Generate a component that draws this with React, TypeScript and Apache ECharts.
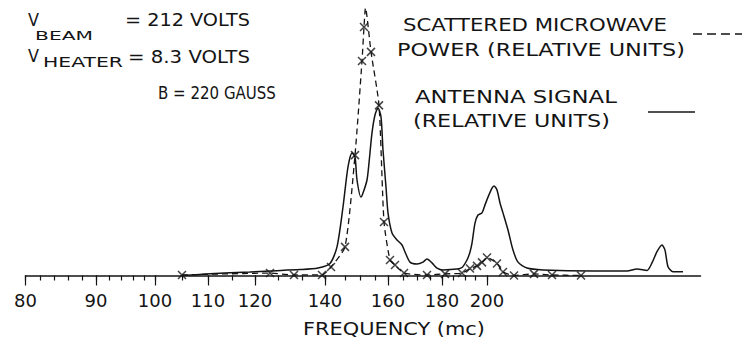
import React, { useEffect, useRef } from "react";
import * as echarts from "echarts";

// Horizontal axis is the sweep position (arbitrary linear units, 0 = 80 mc mark).
// Frequency calibration of the sweep (non-linear).
const tickLabelPos = [0, 14.1, 25.9, 36.5, 45.9, 59.9, 72.5, 83.3, 92.3];
const tickLabelFreq = ["80", "90", "100", "110", "120", "140", "160", "180", "200"];
const minorTickPos = [
  0, 3.0, 5.7, 8.5, 11.3, 14.1, 16.7, 19.1, 21.5, 23.7, 25.9, 31.3, 36.5, 41.3, 45.9,
  50.5, 55.3, 59.9, 63.9, 66.9, 69.9, 72.5, 75.5, 78.3, 80.9, 83.3, 85.5, 87.9, 89.9, 92.3,
];

// Antenna signal (relative units), solid curve
const antennaPos = [
  31.3, 36.9, 44.9, 48.9, 54.9, 58.5, 60.9, 62.3, 63.5, 64.5, 65.3, 65.9, 66.3, 67.1, 67.5,
  68.3, 68.7, 69.3, 69.9, 70.5, 71.1, 71.5, 72.1, 72.5, 73.3, 74.3, 75.3, 75.9, 76.9, 78.3,
  79.5, 80.3, 81.3, 82.3, 83.5, 86.3, 87.3, 88.3, 88.9, 89.3, 89.9, 90.5, 91.3, 91.9, 92.5,
  93.3, 93.7, 94.3, 94.9, 95.5, 96.5, 97.5, 98.5, 100.3, 103.5, 113.5, 120.3, 122.3, 124.3,
  125.3, 126.3, 127.3, 127.9, 128.5, 129.5, 131.5,
];
const antennaSignal = [
  0, 0.7, 1.3, 1.7, 2.2, 2.8, 4.5, 10.7, 25.6, 40.6, 45.8, 44.3, 35.7, 29.3, 30.8,
  35.7, 42.1, 53.3, 60.0, 62.6, 59.3, 46.9, 33.1, 23.4, 15.9, 13.3, 11.4, 8.8, 5.0, 4.3,
  5.0, 6.2, 4.7, 2.8, 2.1, 2.4, 3.0, 5.8, 8.8, 12.1, 19.6, 22.6, 23.4, 26.4, 29.3,
  32.7, 33.5, 32.0, 27.1, 23.4, 17.0, 9.5, 5.0, 2.8, 2.1, 1.7, 1.7, 2.4, 1.9,
  4.7, 8.9, 11.4, 9.5, 3.3, 1.4, 1.4,
];

// Scattered microwave power (relative units), dashed curve; 1 = measured point (x mark)
const microPos = [
  31.3, 48.9, 53.7, 59.3, 61.1, 63.9, 65.9, 67.3, 67.7, 68.0, 69.1, 70.7, 71.7, 72.9, 73.9,
  75.7, 80.3, 83.9, 87.3, 88.9, 90.3, 91.3, 92.3, 94.3, 95.5, 97.7, 101.7, 105.3, 111.1,
];
const microPower = [
  0.2, 0.9, 0.2, 0.2, 3.2, 10.7, 45.0, 80.2, 92.9, 100, 83.6, 63.6, 20.0, 5.8, 3.9,
  0.9, 0.2, 0.6, 0.9, 2.6, 3.6, 4.9, 6.7, 4.5, 1.3, 0, 0.6, 0.2, 0,
];
const microMeasured = [
  1, 1, 1, 1, 1, 1, 1, 1, 1, 0, 1, 1, 1, 1, 1,
  1, 1, 1, 1, 1, 1, 1, 1, 1, 1, 1, 1, 1, 1,
];

const FONT = '"DejaVu Sans", sans-serif';
const INK = "#141414";

function fitScale(text: string, size: number, width: number): number {
  const c = document.createElement("canvas").getContext("2d");
  if (!c) return 1;
  c.font = `${size}px "DejaVu Sans"`;
  const w = c.measureText(text).width;
  return w > 0 ? width / w : 1;
}

type Note = { t: string; x: number; y: number; size: number; w: number; align?: string };
const notes: Note[] = [
  { t: "V", x: 28, y: 20, size: 18, w: 11 },
  { t: "BEAM", x: 35, y: 35, size: 13, w: 58 },
  { t: "= 212 VOLTS", x: 125, y: 20, size: 18, w: 125 },
  { t: "V", x: 28, y: 56, size: 18, w: 11 },
  { t: "HEATER", x: 43, y: 62, size: 14, w: 80 },
  { t: "= 8.3 VOLTS", x: 128, y: 56, size: 18, w: 122 },
  { t: "B = 220 GAUSS", x: 158, y: 93, size: 18, w: 118 },
  { t: "SCATTERED MICROWAVE", x: 403, y: 25, size: 18, w: 264 },
  { t: "POWER (RELATIVE UNITS)", x: 397, y: 50, size: 18, w: 288 },
  { t: "ANTENNA SIGNAL", x: 415, y: 97, size: 18, w: 202 },
  { t: "(RELATIVE UNITS)", x: 413, y: 121, size: 18, w: 197 },
  { t: "FREQUENCY (mc)", x: 394, y: 329, size: 18, w: 182, align: "center" },
];

export default function App() {
  const ref = useRef<HTMLDivElement>(null);
  useEffect(() => {
    if (!ref.current) return;
    const chart = echarts.init(ref.current, null, { renderer: "svg" });

    const antennaData = antennaPos.map((p, i) => [p, antennaSignal[i]]);
    const microLine = microPos.map((p, i) => [p, microPower[i]]);
    const microMarks = microPos
      .map((p, i) => [p, microPower[i], microMeasured[i]])
      .filter((d) => d[2] === 1)
      .map((d) => [d[0], d[1]]);

    const graphics: any[] = notes.map((n) => ({
      type: "text",
      x: n.x,
      y: n.y,
      scaleX: fitScale(n.t, n.size, n.w),
      silent: true,
      style: {
        text: n.t,
        fontSize: n.size,
        fontFamily: FONT,
        fill: INK,
        align: n.align || "left",
        verticalAlign: "middle",
      },
    }));
    graphics.push({
      type: "line",
      shape: { x1: 693, y1: 34, x2: 742, y2: 34 },
      style: { stroke: INK, lineWidth: 1.3, lineDash: [9, 5] },
    });
    graphics.push({
      type: "line",
      shape: { x1: 648, y1: 112, x2: 695, y2: 112 },
      style: { stroke: INK, lineWidth: 1.4 },
    });

    const option: any = {
      animation: false,
      backgroundColor: "#ffffff",
      grid: { left: 25.5, right: 41.5, top: 8, bottom: 65.5, containLabel: false },
      xAxis: [
        {
          type: "value",
          position: "bottom",
          min: 0,
          max: 135,
          splitLine: { show: false },
          axisLine: { show: true, onZero: false, lineStyle: { color: INK, width: 1.5 } },
          axisTick: {
            show: true,
            customValues: minorTickPos,
            length: 5,
            inside: false,
            lineStyle: { color: INK, width: 1.2 },
          },
          axisLabel: { show: false },
        },
        {
          type: "value",
          position: "bottom",
          offset: 0,
          min: 0,
          max: 135,
          splitLine: { show: false },
          axisLine: { show: false, onZero: false },
          axisTick: {
            show: true,
            customValues: tickLabelPos,
            length: 10,
            inside: false,
            lineStyle: { color: INK, width: 1.2 },
          },
          axisLabel: {
            show: true,
            customValues: tickLabelPos,
            margin: 16,
            fontSize: 18,
            fontFamily: FONT,
            color: INK,
            formatter: (v: number) => {
              const i = tickLabelPos.findIndex((p) => Math.abs(p - v) < 1e-6);
              return i >= 0 ? tickLabelFreq[i] : "";
            },
          },
        },
      ],
      yAxis: {
        type: "value",
        min: 0,
        max: 100,
        show: false,
        splitLine: { show: false },
      },
      series: [
        {
          name: "Antenna signal",
          type: "line",
          xAxisIndex: 0,
          data: antennaData,
          smooth: 0.25,
          symbol: "none",
          lineStyle: { color: INK, width: 1.5 },
          z: 3,
        },
        {
          name: "Scattered microwave power",
          type: "line",
          xAxisIndex: 0,
          data: microLine,
          smooth: 0.2,
          symbol: "none",
          lineStyle: { color: INK, width: 1.3, type: [6, 4] },
          z: 3,
        },
        {
          name: "Scattered microwave power (measured)",
          type: "scatter",
          xAxisIndex: 0,
          data: microMarks,
          symbol: "path://M0,0L10,10M10,0L0,10",
          symbolSize: 8,
          itemStyle: { color: "rgba(0,0,0,0)", borderColor: INK, borderWidth: 1.5 },
          z: 4,
        },
      ],
      graphic: graphics,
    };
    chart.setOption(option);
    return () => chart.dispose();
  }, []);
  return (
    <div
      ref={ref}
      style={{ position: "absolute", left: 0, top: 0, width: 742, height: 341, background: "#fff" }}
    />
  );
}
